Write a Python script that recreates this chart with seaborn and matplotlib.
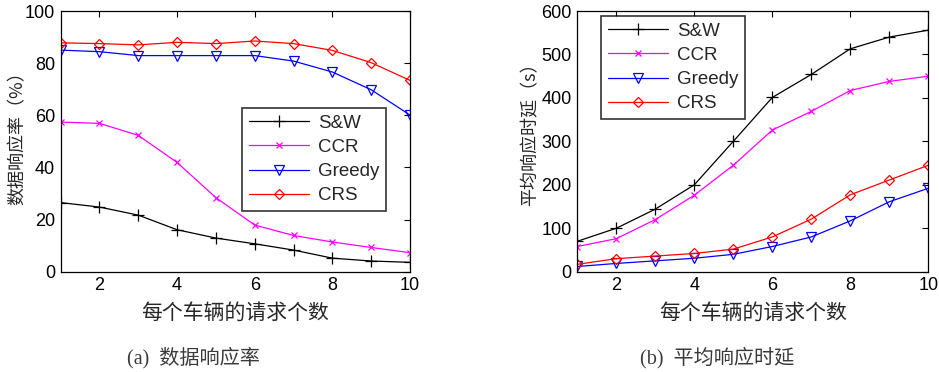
import numpy as np
import pandas as pd
import matplotlib
matplotlib.use("Agg")
import matplotlib.pyplot as plt
import seaborn as sns

# ---- data ----
requests = [1, 2, 3, 4, 5, 6, 7, 8, 9, 10]
series = ["S&W", "CCR", "Greedy", "CRS"]

rate_sw = [26.5, 24.8, 21.7, 16.1, 12.9, 10.7, 8.3, 5.2, 4.1, 3.6]
rate_ccr = [57.4, 56.9, 52.3, 41.9, 28.4, 17.9, 13.9, 11.4, 9.3, 7.3]
rate_greedy = [85.0, 84.4, 82.9, 82.9, 82.9, 82.9, 80.8, 76.6, 69.8, 60.1]
rate_crs = [87.8, 87.5, 87.0, 88.0, 87.5, 88.5, 87.5, 84.9, 80.2, 73.4]

delay_sw = [70, 100, 144, 200, 300, 401, 454, 513, 540, 556]
delay_ccr = [58, 76, 120, 176, 245, 326, 369, 417, 438, 450]
delay_greedy = [12, 19, 25, 31, 40, 58, 80, 117, 161, 192]
delay_crs = [17, 30, 36, 42, 52, 80, 121, 177, 211, 245]

yticks_a = [0, 20, 40, 60, 80, 100]
yticks_b = [0, 100, 200, 300, 400, 500, 600]
xticks = [2, 4, 6, 8, 10]

xlabel = "每个车辆的请求个数"
ylabel_a = "数据响应率（%）"
ylabel_b = "平均响应时延（s）"
caption_a = "(a)  数据响应率"
caption_b = "(b)  平均响应时延"

colors = {"S&W": "black", "CCR": "#ff00ff", "Greedy": "#0000ff", "CRS": "#ff0000"}
markers = {"S&W": "+", "CCR": "x", "Greedy": "v", "CRS": "D"}
msizes = {"S&W": 8, "CCR": 5, "Greedy": 6.5, "CRS": 5}

sns.set_style("white")
plt.rcParams["font.family"] = ["Liberation Sans", "Noto Sans CJK SC", "DejaVu Sans"]

fig = plt.figure(figsize=(9.39, 3.72), dpi=100)
ax1 = fig.add_axes([0.0646, 0.2696, 0.4366 - 0.0646, 0.9704 - 0.2696])
ax2 = fig.add_axes([0.6148, 0.2696, 0.9886 - 0.6148, 0.9704 - 0.2696])

def draw(ax, vals, yticks, ylabel, ylab_xy, leg_anchor, leg_loc):
    df = pd.DataFrame({"x": requests * 4,
                       "y": sum(vals, []),
                       "s": sum([[s] * len(requests) for s in series], [])})
    for s in series:
        sub = df[df["s"] == s]
        sns.lineplot(data=sub, x="x", y="y", ax=ax, color=colors[s], label=s,
                     marker=markers[s], markersize=msizes[s], markerfacecolor="none",
                     markeredgecolor=colors[s], markeredgewidth=0.9, linewidth=0.9)
    ax.set_xlim(1, 10)
    ax.set_ylim(yticks[0], yticks[-1])
    ax.set_xticks(xticks)
    ax.set_yticks(yticks)
    ax.tick_params(direction="in", length=4, width=0.8, top=True, right=True,
                   labelsize=13, pad=4, colors="black")
    for sp in ax.spines.values():
        sp.set_color("black")
        sp.set_linewidth(0.9)
    ax.set_xlabel(xlabel, fontsize=15, family=["Noto Sans CJK SC"], fontweight="medium",
                  va="center")
    ax.xaxis.set_label_coords(0.5, -(313 - 271.7) / 260.7)
    ax.set_ylabel(ylabel, fontsize=13, family=["Noto Sans CJK SC", "DejaVu Sans"],
                  fontweight="medium", va="center")
    ax.yaxis.set_label_coords(*ylab_xy)
    leg = ax.legend(loc=leg_loc, bbox_to_anchor=leg_anchor, fontsize=13.5, frameon=True,
                    fancybox=False, edgecolor="black", handlelength=3.2, borderpad=0.35,
                    labelspacing=0.38, handletextpad=0.5, borderaxespad=0)
    leg.get_frame().set_linewidth(1.2)
    return leg

draw(ax1, [rate_sw, rate_ccr, rate_greedy, rate_crs], yticks_a, ylabel_a,
     ((18 - 60.7) / 349.3, 0.528), (0.519, 0.233), "lower left")
draw(ax2, [delay_sw, delay_ccr, delay_greedy, delay_crs], yticks_b, ylabel_b,
     ((530 - 577.3) / 351, 0.543), (0.0675, 0.981), "upper left")

cap_font = ["Liberation Serif", "Noto Sans CJK SC"]
fig.text(193 / 939, 1 - 358 / 372, caption_a, ha="center", va="center",
         fontsize=14.5, family=cap_font, color="#3a3a3a")
fig.text(717 / 939, 1 - 358 / 372, caption_b, ha="center", va="center",
         fontsize=14.5, family=cap_font, color="#3a3a3a")

fig.savefig("out.png", dpi=100)
